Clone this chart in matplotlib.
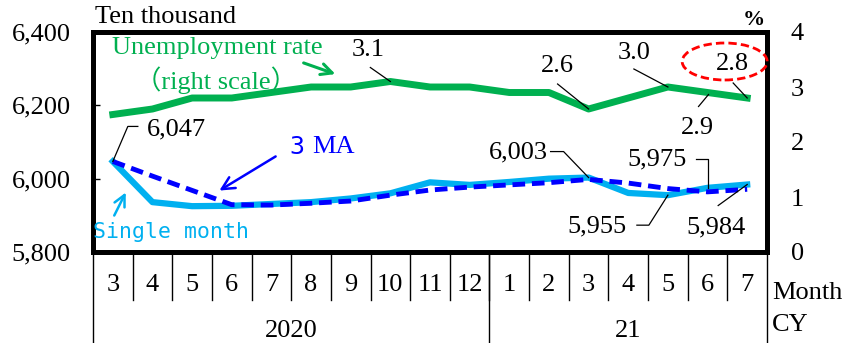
import numpy as np
import matplotlib
matplotlib.use("Agg")
import matplotlib.pyplot as plt
from matplotlib.patches import Ellipse
from matplotlib.transforms import blended_transform_factory

# data (ten thousand persons / %)
months = ['3', '4', '5', '6', '7', '8', '9', '10', '11', '12', '1', '2', '3', '4', '5', '6', '7']
years = ['2020', '21']
year_span = [(0, 9), (10, 16)]
single_month = [6047, 5936, 5925, 5926, 5931, 5936, 5946, 5960, 5990, 5983, 5991, 6000, 6003, 5961, 5955, 5975, 5984]
ma3 = [6047, 6007, 5968, 5929, 5928, 5933, 5939, 5955, 5969, 5977, 5983, 5989, 5998, 5988, 5973, 5964, 5971]
unemp = [2.5, 2.6, 2.8, 2.8, 2.9, 3.0, 3.0, 3.1, 3.0, 3.0, 2.9, 2.9, 2.6, 2.8, 3.0, 2.9, 2.8]

GREEN = '#00B050'
CYAN = '#00B0F0'
BLUE = '#0000FF'
SERIF = ['Liberation Serif', 'DejaVu Serif']
SERIF_CJK = ['Liberation Serif', 'Noto Sans CJK JP']
MONO = ['DejaVu Sans Mono']
FS = 19

plt.rcParams['font.family'] = SERIF

fig = plt.figure(figsize=(8.43, 3.43), dpi=100)
ax = fig.add_axes([93 / 843, 91 / 343, 674 / 843, 220 / 343])
ax2 = ax.twinx()

x = np.arange(len(months))
ax.plot(x, single_month, color=CYAN, lw=4.5, solid_joinstyle='round', zorder=3)
ax.plot(x, ma3, color=BLUE, lw=3.5, ls=(0, (2.6, 1.4)), zorder=4)
ax2.plot(x, unemp, color=GREEN, lw=5, solid_joinstyle='round', zorder=3)

ax.set_xlim(-0.5, len(months) - 0.5)
ax.set_ylim(5800, 6400)
ax2.set_ylim(0, 4)
ax.set_yticks([5800, 6000, 6200, 6400])
ax.set_yticklabels([f'{v:,}' for v in [5800, 6000, 6200, 6400]], fontsize=FS)
ax2.set_yticks([0, 1, 2, 3, 4])
ax2.set_yticklabels(['0', '1', '2', '3', '4'], fontsize=FS)
ax.tick_params(axis='y', direction='in', length=5, width=1, pad=16)
ax2.tick_params(axis='y', length=0, pad=17)
ax.set_xticks([])
for sp in ax.spines.values():
    sp.set_linewidth(3.5)
for sp in ax2.spines.values():
    sp.set_linewidth(3.5)

# category table under the axis
tr = blended_transform_factory(ax.transData, ax.transAxes)
for i, m in enumerate(months):
    ax.text(i, -0.15, m, transform=tr, ha='center', va='center', fontsize=FS)
for i in range(1, len(months)):
    ax.plot([i - 0.5, i - 0.5], [0, -0.22], transform=tr, color='black', lw=1, clip_on=False)
for xb in [-0.5, 9.5, 16.5]:
    ax.plot([xb, xb], [0, -0.42], transform=tr, color='black', lw=1, clip_on=False)
for (a, b), yr in zip(year_span, years):
    ax.text((a + b) / 2, -0.36, yr, transform=tr, ha='center', va='center', fontsize=FS)

fig.text(772 / 843, 50 / 343, 'Month', ha='left', va='center', fontsize=FS)
fig.text(772 / 843, 18 / 343, 'CY', ha='left', va='center', fontsize=FS)
fig.text(95 / 843, 326 / 343, 'Ten thousand', ha='left', va='center', fontsize=FS)
fig.text(765 / 843, 323 / 343, '%', ha='right', va='center', fontsize=16, fontweight='bold')

# series captions and arrows
fig.text(217 / 843, 295 / 343, 'Unemployment rate', ha='center', va='center', fontsize=FS, color=GREEN)
fig.text(216 / 843, 263 / 343, '（right scale）', ha='center', va='center', fontsize=FS, color=GREEN,
         family=SERIF_CJK)
ax.annotate('', xy=(338, 268), xytext=(301, 281), xycoords='figure pixels', textcoords='figure pixels',
            arrowprops=dict(arrowstyle='->,head_length=0.8,head_width=0.4', color=GREEN, lw=2.2))
fig.text(297 / 843, 196 / 343, '3', ha='center', va='center', fontsize=18, color=BLUE, family=MONO)
fig.text(333 / 843, 196 / 343, 'MA', ha='center', va='center', fontsize=FS, color=BLUE)
ax.annotate('', xy=(217, 151), xytext=(278, 188), xycoords='figure pixels', textcoords='figure pixels',
            arrowprops=dict(arrowstyle='->,head_length=0.9,head_width=0.45', color=BLUE, lw=1.8))
fig.text(171 / 843, 111 / 343, 'Single month', ha='center', va='center', fontsize=15.5, color=CYAN, family=MONO)
ax.annotate('', xy=(127, 153), xytext=(113, 125), xycoords='figure pixels', textcoords='figure pixels',
            arrowprops=dict(arrowstyle='->,head_length=0.8,head_width=0.4', color=CYAN, lw=1.8))


def label(axis, i, y, text, offset, path, ha='center'):
    # text placed at a pixel offset from the point, leader drawn through pixel offsets
    axis.annotate(text, xy=(i, y), xytext=offset, textcoords='offset pixels',
                  ha=ha, va='center', fontsize=FS)
    X, Y = axis.transData.transform((i, y))
    xs = [X + dx for dx, dy in path]
    ys = [Y + dy for dx, dy in path]
    axis.plot(xs, ys, transform=None, color='black', lw=0.9, clip_on=False, zorder=5)


fig.canvas.draw()
label(ax2, 7, unemp[7], '3.1', (-22, 31), [(0, 0), (-20, 14)])
label(ax2, 12, unemp[12], '2.6', (-31, 43), [(0, 0), (-31, 25)])
label(ax2, 14, unemp[14], '3.0', (-34, 34), [(0, 0), (-34, 18)])
label(ax2, 15, unemp[15], '2.9', (-10, -36), [(1, -2), (-9, -14)])
label(ax2, 16, unemp[16], '2.8', (-15, 34), [(0, 0), (-14, 15)])
label(ax, 0, single_month[0], '6,047', (34, 32), [(0, 0), (15, 35), (25, 35)], ha='left')
label(ax, 12, single_month[12], '6,003', (-41, 25), [(0, 0), (-25, 26), (-38, 26)], ha='right')
label(ax, 15, single_month[15], '5,975', (-21, 28), [(0, 0), (0, 29), (-12, 29)], ha='right')
label(ax, 14, single_month[14], '5,955', (-41, -31), [(0, 0), (-19, -30), (-31, -30)], ha='right')
label(ax, 16, single_month[16], '5,984', (-31, -43), [(0, 0), (-29, -21)])

# highlight latest unemployment value
X, Y = ax2.transData.transform((16, unemp[16]))
ell = Ellipse((X - 22.5, Y + 36.5), 85, 37, transform=None, fill=False, edgecolor='#FF0000',
              lw=2, ls=(0, (3, 1.5)), clip_on=False, zorder=6)
fig.add_artist(ell)

fig.savefig('out.png', dpi=100)
